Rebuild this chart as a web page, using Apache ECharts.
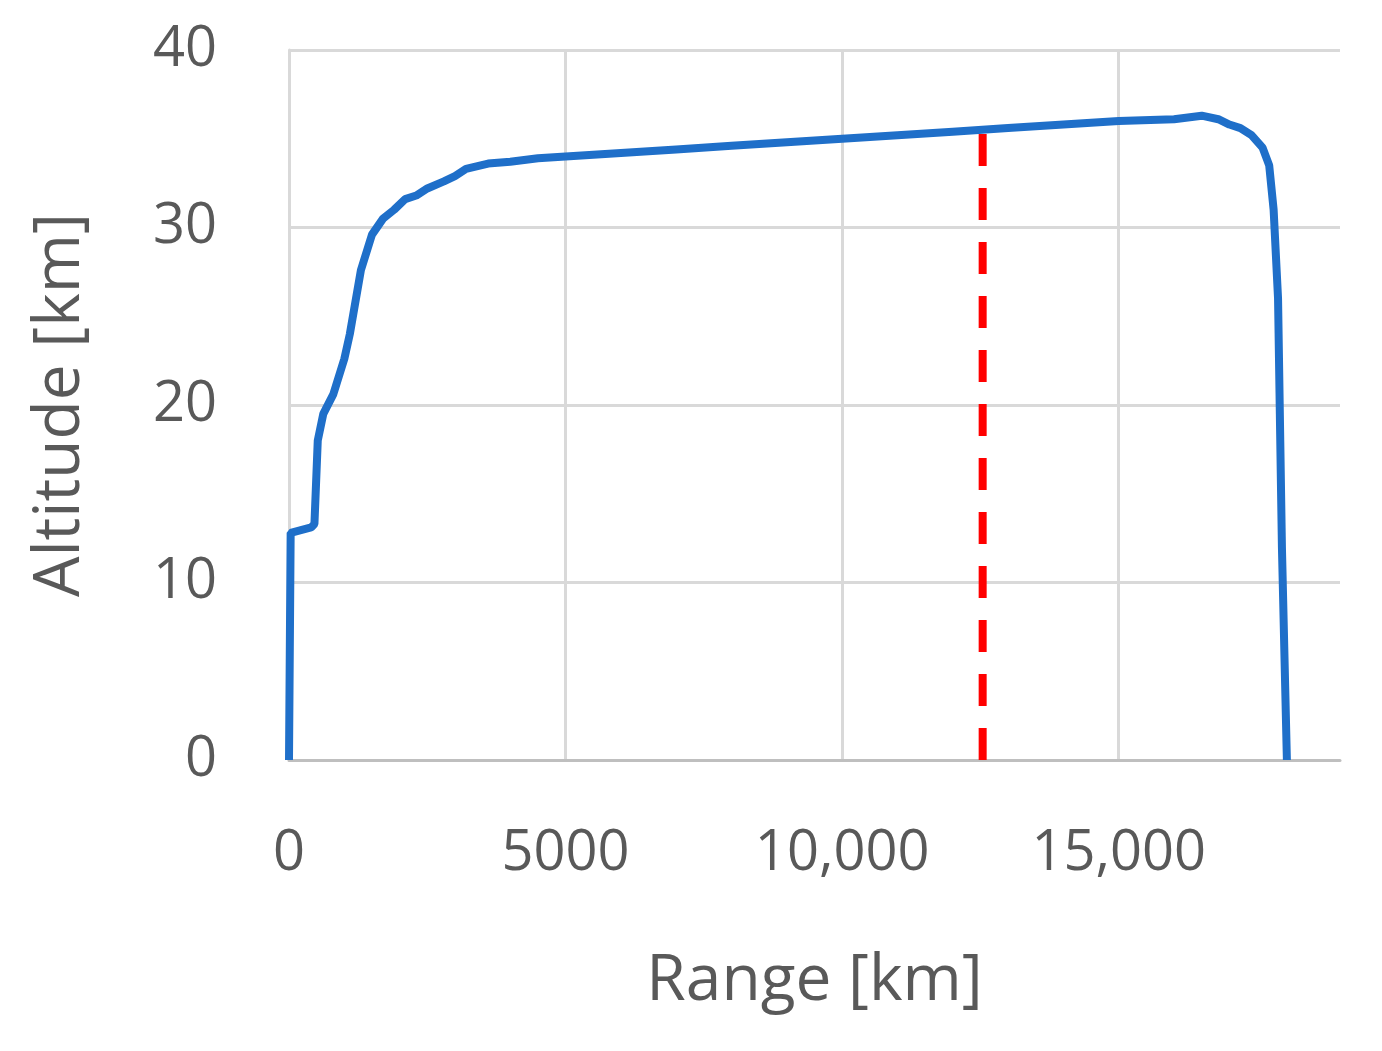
<!DOCTYPE html>
<html><head><meta charset="utf-8">
<script src="https://cdn.jsdelivr.net/npm/echarts@6/dist/echarts.min.js"></script>
<style>html,body{margin:0;background:#fff}#chart{width:1382px;height:1051px}</style>
</head><body><div id="chart"></div>
<script>
var rangeKm = [0, 30, 400, 460, 520, 620, 800, 1000, 1100, 1300, 1500, 1700, 1900, 2100, 2300, 2500, 2800, 3000, 3200, 3600, 4000, 4500, 5000, 6000, 7000, 8000, 9000, 10000, 11000, 12000, 13000, 14000, 15000, 16000, 16500, 16800, 17000, 17200, 17400, 17600, 17720, 17800, 17880, 17950, 18040];
var altitudeKm = [0, 12.8, 13.1, 13.3, 18, 19.5, 20.6, 22.6, 24, 27.6, 29.6, 30.5, 31, 31.6, 31.8, 32.2, 32.6, 32.9, 33.3, 33.6, 33.7, 33.9, 34, 34.2, 34.4, 34.6, 34.8, 35, 35.2, 35.4, 35.6, 35.8, 36, 36.1, 36.3, 36.1, 35.8, 35.6, 35.2, 34.5, 33.5, 31, 26, 12, 0];
var markerRange = 12540;
var markerTop = 35.7;

var chart = echarts.init(document.getElementById('chart'));
var txt = {color: '#595959', fontFamily: 'Open Sans', fontSize: 56};
chart.setOption({
    animation: false,
    grid: {left: 289, right: 42, top: 50, bottom: 291},
    xAxis: {
        type: 'value', min: 0, max: 19000, interval: 5000,
        name: 'Range [km]', nameLocation: 'middle', nameGap: 190,
        nameTextStyle: Object.assign({}, txt, {fontSize: 64}),
        axisLine: {lineStyle: {color: '#bfbfbf', width: 3}},
        axisTick: {show: false},
        axisLabel: Object.assign({}, txt, {margin: 66, showMaxLabel: false,
            formatter: function (v) { return v >= 10000 ? v.toLocaleString('en-US') : String(v); }}),
        splitLine: {showMaxLine: false, lineStyle: {color: '#d9d9d9', width: 3}}
    },
    yAxis: {
        type: 'value', min: 0, max: 40, interval: 10,
        name: 'Altitude [km]', nameLocation: 'middle', nameGap: 196,
        nameTextStyle: Object.assign({}, txt, {fontSize: 64}),
        axisLine: {show: true, lineStyle: {color: '#d9d9d9', width: 3}},
        axisTick: {show: false},
        axisLabel: Object.assign({}, txt, {margin: 72}),
        splitLine: {lineStyle: {color: '#d9d9d9', width: 3}}
    },
    series: [{
        type: 'line', showSymbol: false,
        data: rangeKm.map(function (r, i) { return [r, altitudeKm[i]]; }),
        lineStyle: {color: '#1f6fc9', width: 8}
    }, {
        type: 'line', showSymbol: false,
        data: [[markerRange, 0], [markerRange, markerTop]],
        lineStyle: {color: '#ff0000', width: 8, type: [32, 22]}
    }]
});
</script></body></html>
